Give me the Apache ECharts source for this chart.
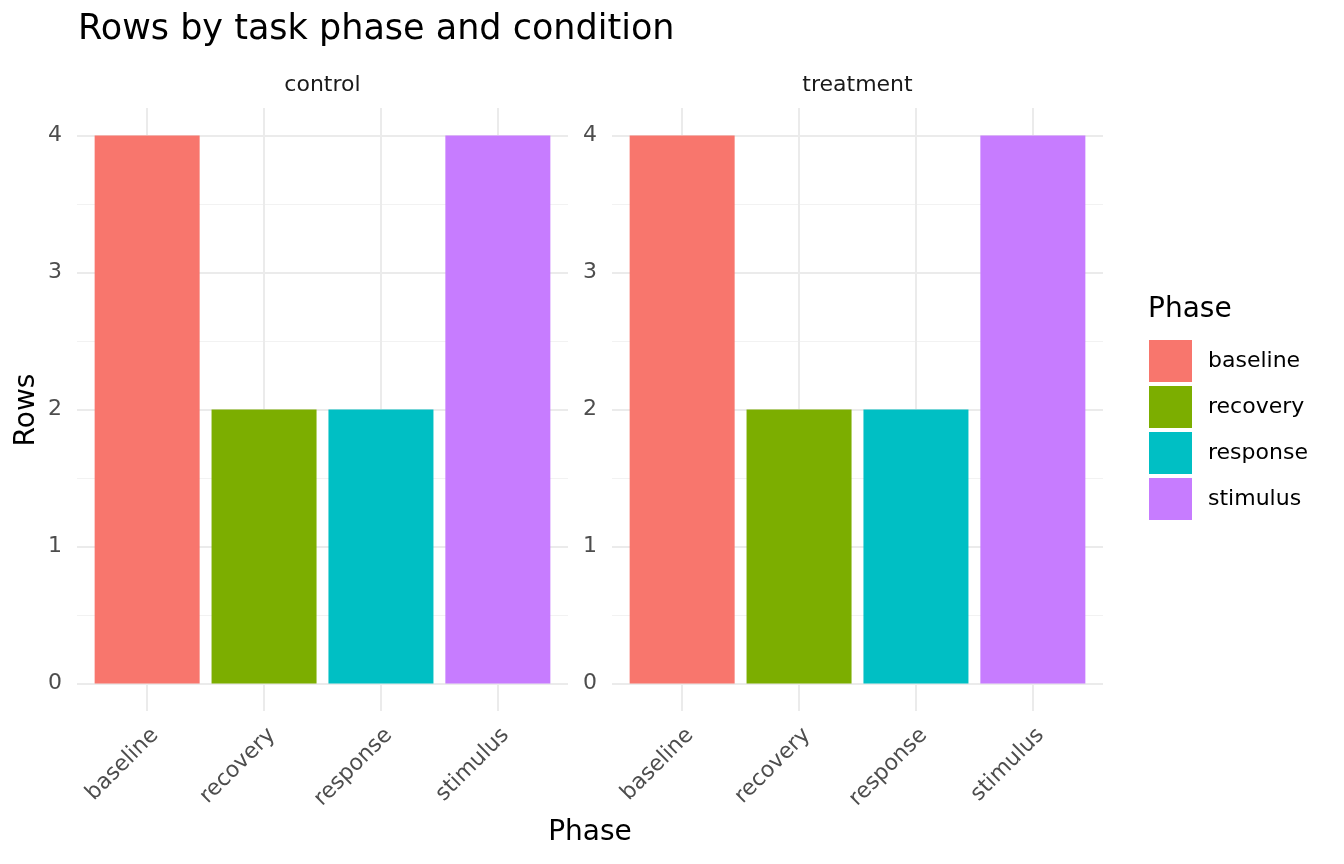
<!DOCTYPE html>
<html>
<head>
<meta charset="utf-8">
<script src="https://cdn.jsdelivr.net/npm/echarts@6/dist/echarts.min.js"></script>
<style>
  html, body { margin: 0; padding: 0; background: #fff; }
  #chart { width: 1344px; height: 864px; }
</style>
</head>
<body>
<div id="chart"></div>
<script>
// data
var phases = ['baseline', 'recovery', 'response', 'stimulus'];
var conditions = ['control', 'treatment'];
var controlRows = [4, 2, 2, 4];
var treatmentRows = [4, 2, 2, 4];
var yTicks = [0, 1, 2, 3, 4];
var yMinor = [0.5, 1.5, 2.5, 3.5];
var phaseColors = ['#F8766D', '#7CAE00', '#00BFC4', '#C77CFF'];

var rowsByCondition = [controlRows, treatmentRows];
var font = 'DejaVu Sans';
var gridLeft = [77, 612];
var gridWidth = 491;

var myChart = echarts.init(document.getElementById('chart'));

var grids = [], xAxes = [], yAxes = [], series = [];
conditions.forEach(function (cond, g) {
  grids.push({ left: gridLeft[g], width: gridWidth, top: 108, height: 603 });
  xAxes.push({
    type: 'value', gridIndex: g, min: 0.4, max: 4.6,
    axisLine: { show: false },
    axisTick: { show: false, customValues: [1, 2, 3, 4] },
    axisLabel: {
      customValues: [1, 2, 3, 4],
      rotate: 45, margin: 13, verticalAlign: 'top',
      fontFamily: font, fontSize: 22, color: '#4D4D4D',
      formatter: function (v) { return phases[Math.round(v) - 1]; }
    },
    splitLine: { show: true, lineStyle: { color: '#EBEBEB', width: 2 } }
  });
  yAxes.push({
    type: 'value', gridIndex: g, min: -0.2, max: 4.2, position: 'left',
    axisLine: { show: false },
    axisTick: { show: false, customValues: yMinor },
    axisLabel: { show: false, customValues: yMinor },
    splitLine: { show: true, lineStyle: { color: '#F2F2F2', width: 1 } }
  });
  yAxes.push({
    type: 'value', gridIndex: g, min: -0.2, max: 4.2, position: 'left',
    axisLine: { show: false },
    axisTick: { show: false, customValues: yTicks },
    axisLabel: {
      customValues: yTicks, margin: 15,
      fontFamily: font, fontSize: 22, color: '#4D4D4D'
    },
    splitLine: { show: true, lineStyle: { color: '#EBEBEB', width: 2 } }
  });
  phases.forEach(function (p, i) {
    series.push({
      name: p, type: 'bar',
      xAxisIndex: g, yAxisIndex: g * 2 + 1,
      barWidth: 105, barGap: '-100%',
      itemStyle: { color: phaseColors[i] },
      data: [[i + 1, rowsByCondition[g][i]]]
    });
  });
});

var texts = [
  { text: 'Rows by task phase and condition', x: 78, y: 30, size: 35, color: '#000', align: 'left' },
  { text: conditions[0], x: 322.5, y: 85, size: 22, color: '#1A1A1A', align: 'center' },
  { text: conditions[1], x: 857.5, y: 85, size: 22, color: '#1A1A1A', align: 'center' },
  { text: 'Phase', x: 590, y: 833, size: 28, color: '#000', align: 'center' },
  { text: 'Phase', x: 1148, y: 310, size: 28, color: '#000', align: 'left' }
];
var graphic = texts.map(function (t) {
  return {
    type: 'text', x: t.x, y: t.y,
    style: {
      text: t.text, fill: t.color, font: t.size + 'px "' + font + '"',
      textAlign: t.align, textVerticalAlign: 'middle'
    }
  };
});
graphic.push({
  type: 'text', x: 27, y: 410, rotation: Math.PI / 2,
  style: {
    text: 'Rows', fill: '#000', font: '28px "' + font + '"',
    textAlign: 'center', textVerticalAlign: 'middle'
  }
});

myChart.setOption({
  backgroundColor: '#fff',
  animation: false,
  grid: grids,
  xAxis: xAxes,
  yAxis: yAxes,
  legend: {
    data: phases,
    orient: 'vertical', left: 1149, top: 340, padding: 0,
    itemWidth: 43, itemHeight: 42, itemGap: 4,
    icon: 'rect',
    textStyle: { fontFamily: font, fontSize: 22, color: '#000', padding: [0, 0, 0, 11] }
  },
  graphic: graphic,
  series: series
});
</script>
</body>
</html>
